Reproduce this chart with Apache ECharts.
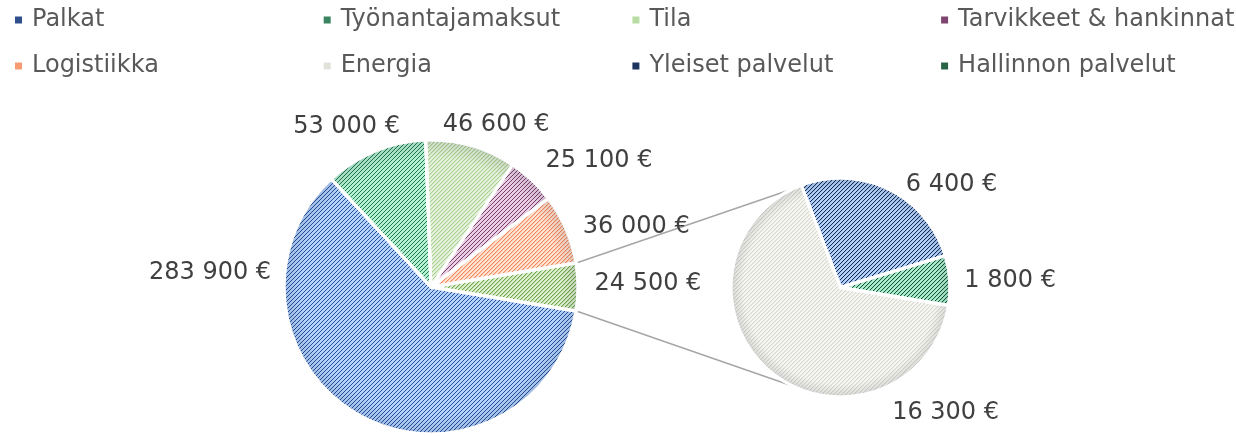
<!DOCTYPE html>
<html>
<head>
<meta charset="utf-8">
<script src="https://cdn.jsdelivr.net/npm/echarts@6/dist/echarts.min.js"></script>
<style>
  html, body { margin: 0; padding: 0; background: #fff; }
  #chart { width: 1236px; height: 436px; }
</style>
</head>
<body>
<div id="chart"></div>
<script>
// data
const mainNames = ["Palkat", "Työnantajamaksut", "Tila", "Tarvikkeet & hankinnat", "Logistiikka"];
const mainValues = [283900, 53000, 46600, 25100, 36000];
const subNames = ["Yleiset palvelut", "Hallinnon palvelut", "Energia"];
const subValues = [6400, 1800, 16300];
const legendNames = ["Palkat", "Työnantajamaksut", "Tila", "Tarvikkeet & hankinnat",
  "Logistiikka", "Energia", "Yleiset palvelut", "Hallinnon palvelut"];

const otherValue = subValues.reduce((a, b) => a + b, 0);
const mainTotal = mainValues.reduce((a, b) => a + b, 0) + otherValue;
const otherDeg = otherValue / mainTotal * 360;

// layout
const mainC = [431, 287], mainR = 147;
const subC = [840.5, 287.5], subR = 109.5;

// label anchors: [angle deg, distance as factor of radius]
const mainLabelSpots = [[176.4, 1.506], [117.8, 1.231], [68.1, 1.188], [36.9, 1.429], [16.3, 1.455], [0.8, 1.476]];
const subLabelSpots = [[42.7, 1.38], [2.2, 1.55], [-49.9, 1.49]];

function hatch(bg, fg, soft) {
  const c = document.createElement("canvas");
  c.width = 4; c.height = 4;
  const g = c.getContext("2d");
  g.fillStyle = bg; g.fillRect(0, 0, 4, 4);
  g.fillStyle = fg;
  for (let i = 0; i < 4; i++) g.fillRect(i, 3 - i, 1, 1);
  g.globalAlpha = soft;
  for (let i = 0; i < 4; i++) g.fillRect(i, (4 - i) % 4, 1, 1);
  return { image: c, repeat: "repeat" };
}

const fills = {
  "Palkat": hatch("#b4d2fc", "#23509c", 0),
  "Työnantajamaksut": hatch("#b4f0d2", "#1f7a4e", 0),
  "Tila": hatch("#e6f2de", "#a9d18e", 0.35),
  "Tarvikkeet & hankinnat": hatch("#eacfe3", "#7a3d70", 0),
  "Logistiikka": hatch("#ffe3d4", "#f58a5f", 0.35),
  "Muut": hatch("#dff0d2", "#72a84b", 0.3),
  "Energia": hatch("#f6f6f2", "#d9d9d0", 0.35),
  "Yleiset palvelut": hatch("#b4d2fa", "#132b55", 0.1),
  "Hallinnon palvelut": hatch("#aaefce", "#1b5238", 0.1)
};

// legend markers look darker in the original
const markerColors = {
  "Palkat": "#2f4f8c",
  "Työnantajamaksut": "#3a8560",
  "Tila": "#b9dca2",
  "Tarvikkeet & hankinnat": "#7d4570",
  "Logistiikka": "#f79b74",
  "Energia": "#e2e2da",
  "Yleiset palvelut": "#1d3460",
  "Hallinnon palvelut": "#2a6446"
};

function euro(v) {
  return String(v).replace(/\B(?=(\d{3})+(?!\d))/g, " ") + " €";
}

function polar(c, r, deg) {
  const a = deg * Math.PI / 180;
  return [c[0] + r * Math.cos(a), c[1] - r * Math.sin(a)];
}

function rim(c, r) {
  return {
    type: "radial", x: c[0], y: c[1], r: r, global: true,
    colorStops: [
      { offset: 0, color: "rgba(0,0,0,0)" },
      { offset: 0.88, color: "rgba(0,0,0,0)" },
      { offset: 1, color: "rgba(10,20,40,0.12)" }
    ]
  };
}

const mainData = mainNames.map((n, i) => ({ name: n, value: mainValues[i], itemStyle: { color: fills[n] } }));
mainData.push({ name: "Muut", value: otherValue, itemStyle: { color: fills["Muut"] } });
const subData = subNames.map((n, i) => ({ name: n, value: subValues[i], itemStyle: { color: fills[n] } }));

const p1 = polar(mainC, mainR + 1, otherDeg / 2);
const p2 = polar(mainC, mainR + 1, -otherDeg / 2);
const q1 = polar(subC, subR, 116);
const q2 = polar(subC, subR, -116);

const chart = echarts.init(document.getElementById("chart"));
const labelBase = {
  show: true,
  position: "outside",
  formatter: (p) => euro(p.value),
  fontFamily: "DejaVu Sans",
  fontSize: 24,
  color: "#404040"
};

const pieBase = {
  type: "pie",
  clockwise: true,
  avoidLabelOverlap: false,
  itemStyle: { borderColor: "#fff", borderWidth: 3 },
  labelLine: { show: false }
};

chart.setOption({
  animation: false,
  textStyle: { fontFamily: "DejaVu Sans" },
  legend: {
    data: legendNames.map((n) => ({ name: n, itemStyle: { color: markerColors[n] } })),
    left: 13,
    top: -3,
    width: 1240,
    padding: 0,
    itemGap: 0,
    itemWidth: 9,
    itemHeight: 9,
    icon: "rect",
    textStyle: {
      fontSize: 24,
      color: "#595959",
      width: 289.7,
      lineHeight: 46,
      padding: [0, 0, 0, 4]
    }
  },
  graphic: [
    { type: "line", z: 0, shape: { x1: p1[0], y1: p1[1], x2: q1[0], y2: q1[1] }, style: { stroke: "#a6a6a6", lineWidth: 1.5 } },
    { type: "line", z: 0, shape: { x1: p2[0], y1: p2[1], x2: q2[0], y2: q2[1] }, style: { stroke: "#a6a6a6", lineWidth: 1.5 } }
  ],
  series: [
    Object.assign({}, pieBase, {
      name: "Kulut",
      center: mainC,
      radius: mainR,
      startAngle: 360 - otherDeg / 2,
      label: labelBase,
      labelLayout: (p) => {
        const s = mainLabelSpots[p.dataIndex];
        const pt = polar(mainC, mainR * s[1], s[0]);
        return { x: pt[0], y: pt[1], align: "center", verticalAlign: "middle" };
      },
      data: mainData
    }),
    Object.assign({}, pieBase, {
      name: "Muut",
      center: subC,
      radius: subR,
      startAngle: 111,
      label: labelBase,
      labelLayout: (p) => {
        const s = subLabelSpots[p.dataIndex];
        const pt = polar(subC, subR * s[1], s[0]);
        return { x: pt[0], y: pt[1], align: "center", verticalAlign: "middle" };
      },
      data: subData
    }),
    // rim shading on top of both pies
    Object.assign({}, pieBase, {
      name: "rim1",
      silent: true,
      center: mainC,
      radius: mainR,
      startAngle: 360 - otherDeg / 2,
      label: { show: false },
      itemStyle: { borderColor: "#fff", borderWidth: 3, color: rim(mainC, mainR) },
      data: mainData.map((d) => ({ name: d.name, value: d.value }))
    }),
    Object.assign({}, pieBase, {
      name: "rim2",
      silent: true,
      center: subC,
      radius: subR,
      startAngle: 111,
      label: { show: false },
      itemStyle: { borderColor: "#fff", borderWidth: 3, color: rim(subC, subR) },
      data: subData.map((d) => ({ name: d.name, value: d.value }))
    })
  ]
});
</script>
</body>
</html>
